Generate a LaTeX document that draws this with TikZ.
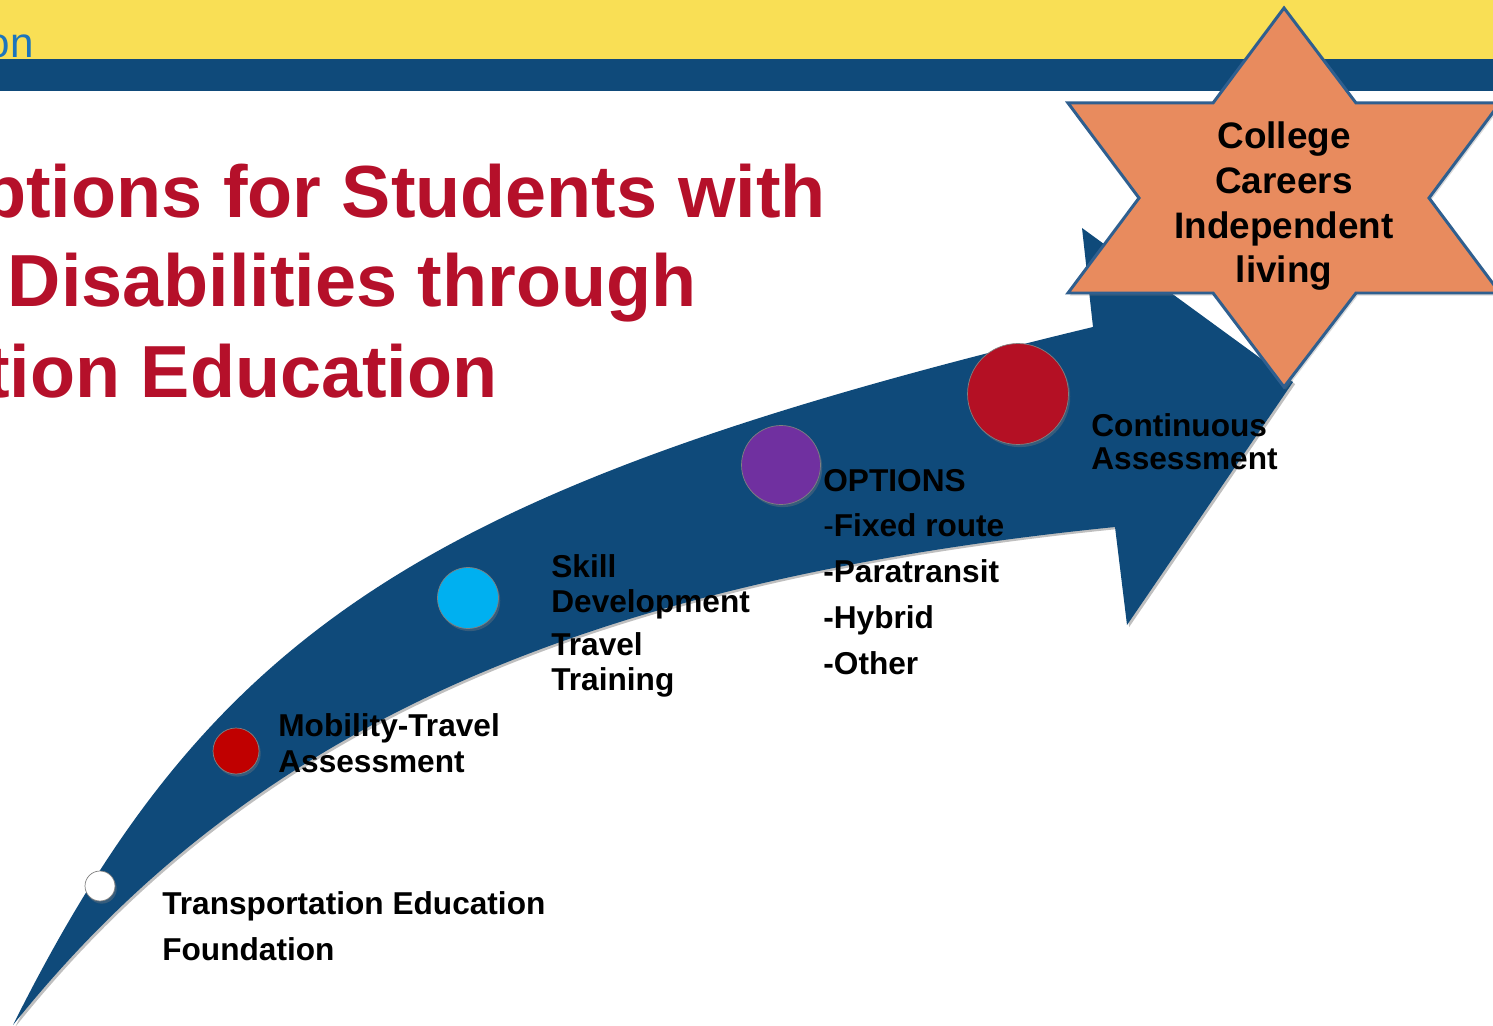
\documentclass[tikz,border=0pt]{standalone}
\usepackage{fontspec}
\setmainfont{Liberation Sans}
\usetikzlibrary{shadows}

\definecolor{bandyellow}{RGB}{249,223,85}
\definecolor{trackblue}{RGB}{15,74,122}
\definecolor{titlered}{RGB}{181,16,42}
\definecolor{headblue}{RGB}{28,117,188}
\definecolor{starorange}{RGB}{232,139,94}
\definecolor{staredge}{RGB}{47,95,143}
\definecolor{darkred}{RGB}{192,0,0}
\definecolor{skycyan}{RGB}{0,176,240}
\definecolor{optpurple}{RGB}{112,48,160}
\definecolor{goalred}{RGB}{180,16,36}

\begin{document}
\begin{tikzpicture}
[x=0.02cm,y=-0.02cm,every node/.style={inner sep=0pt},
 title/.style={anchor=base east,text=titlered,font=\fontsize{42}{51}\selectfont\bfseries},
 label/.style={anchor=base west,align=left,font=\fontsize{18}{19.5}\selectfont\bfseries},
 wide/.style={font=\fontsize{18}{26}\selectfont\bfseries},
 dot/.style={circle,draw=black!50,line width=0.4pt,
   drop shadow={opacity=0.35,shadow xshift=1pt,shadow yshift=-1.5pt}}]
  \useasboundingbox (0,0) rectangle (1493,1026);
  \clip (0,0) rectangle (1493,1026);

  % header bands
  \fill[bandyellow] (0,0) rectangle (1493,59);
  \fill[trackblue] (0,59) rectangle (1493,91);
  \node[anchor=base east,text=headblue,font=\fontsize{24}{24}\selectfont] (head) at (34,58) {on};

  % title
  \node[title] (t1) at (826,218) {ptions for Students with};
  \node[title] (t2) at (697,307) {Disabilities through};
  \node[title] (t3) at (498,398) {tion Education};

  % the curved arrow
  \fill[trackblue,preaction={fill=black,opacity=0.25,transform canvas={xshift=1.2pt,yshift=-1.2pt}}]
    (13,1025) .. controls (212,627) and (428,487) .. (1093,327)
    -- (1082,228) -- (1293,382) -- (1127,625) -- (1115,527)
    .. controls (580,581) and (249,730) .. (13,1025) -- cycle;

  % steps on the arrow
  \node[dot,fill=white,minimum size=0.6cm] (d0) at (100,886) {};
  \node[dot,fill=darkred,minimum size=0.92cm] (d1) at (236,751) {};
  \node[dot,fill=skycyan,minimum size=1.22cm] (d2) at (468,598) {};
  \node[dot,fill=optpurple,minimum size=1.58cm] (d3) at (781,465) {};
  \node[dot,fill=goalred,minimum size=2.02cm] (d4) at (1018,394) {};

  % labels (anchored at the last baseline)
  \node[label,wide] (n0) at (162,960) {Transportation Education\\Foundation};
  \node[label,font=\fontsize{18}{20}\selectfont\bfseries] (n1) at (278,772) {Mobility-Travel\\Assessment};
  \node[label] (n2) at (551,612) {Skill\\Development};
  \node[label] (n3) at (551,690) {Travel\\Training};
  \node[label,wide] (n4) at (823,674) {OPTIONS\\{\mdseries-}Fixed route\\-Paratransit\\-Hybrid\\-Other};
  \node[label,font=\fontsize{18}{18.8}\selectfont\bfseries] (n5) at (1091,470) {Continuous\\Assessment};

  % goal star
  \draw[staredge,fill=starorange,line width=1.7pt,line join=miter,
        drop shadow={opacity=0.3,shadow xshift=1pt,shadow yshift=-1.5pt}]
    (1284,8) -- (1356,103) -- (1500,103) -- (1429,198) -- (1500,293) -- (1356,293)
    -- (1284,387) -- (1213,293) -- (1068,293) -- (1139,198) -- (1068,103) -- (1213,103) -- cycle;
  \node[anchor=base,align=center,font=\fontsize{21}{25.6}\selectfont\bfseries] (goal) at (1284,283)
    {College\\Careers\\Independent\\living};

\end{tikzpicture}
\end{document}
